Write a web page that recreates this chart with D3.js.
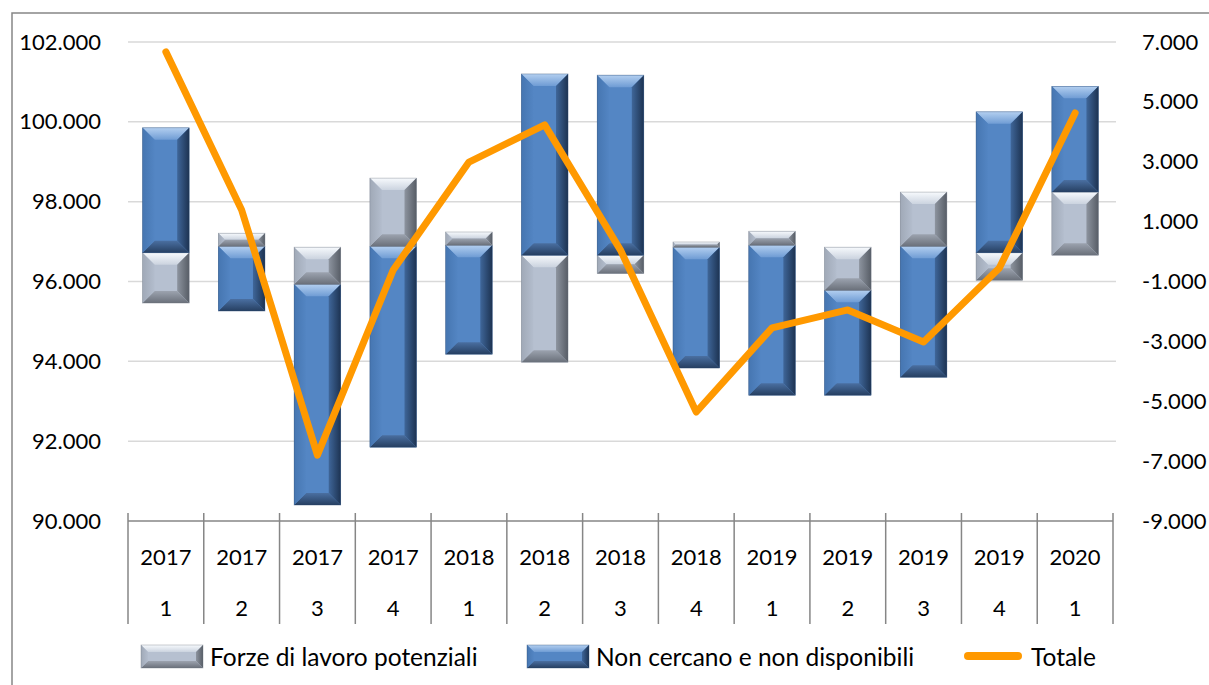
<!DOCTYPE html>
<html>
<head>
<meta charset="utf-8">
<script src="https://cdn.jsdelivr.net/npm/d3@7"></script>
<style>
  body { margin: 0; background: #fff; }
  text { font-family: Lato, "Open Sans", sans-serif; fill: #000; }
</style>
</head>
<body>
<script>
// categories (year / quarter)
const years = ["2017", "2017", "2017", "2017", "2018", "2018", "2018", "2018", "2019", "2019", "2019", "2019", "2020"];
const quarters = ["1", "2", "3", "4", "1", "2", "3", "4", "1", "2", "3", "4", "1"];

// floating segments [low, high] on the left axis
const potenziali = [
  [95460, 96720], [96880, 97210], [95930, 96860], [96880, 98590], [96910, 97240],
  [93980, 96660], [96200, 96660], [96860, 96990], [96910, 97260], [96860, 95780],
  [96880, 98240], [96030, 96720], [96660, 98240]
];
const nonCercano = [
  [96720, 99850], [95260, 96880], [90400, 95930], [91850, 96880], [94180, 96910],
  [96660, 101200], [96660, 101170], [93830, 96860], [93150, 96910], [93150, 95780],
  [93600, 96880], [96720, 100250], [98240, 100890]
];

// right axis line
const totale = [6670, 1390, -6800, -615, 2990, 4230, 50, -5360, -2550, -1950, -3020, -550, 4630];

const leftTicks = [90000, 92000, 94000, 96000, 98000, 100000, 102000];
const rightTicks = [-9000, -7000, -5000, -3000, -1000, 1000, 3000, 5000, 7000];

const W = 1209, H = 685;
const plot = { left: 128, right: 1113, top: 42, bottom: 521 };
const FONT = 22;
const LEGEND_FONT = 24.5;

const it = d3.formatLocale({ decimal: ",", thousands: ".", grouping: [3], currency: ["€", ""], minus: "-" });
const fmt = it.format(",d");

const svg = d3.select("body").append("svg").attr("width", W).attr("height", H);
svg.append("rect").attr("width", W).attr("height", H).attr("fill", "#fff");

// outer frame
svg.append("rect")
  .attr("x", 12).attr("y", 13).attr("width", W + 20).attr("height", H + 20)
  .attr("fill", "none").attr("stroke", "#868686").attr("stroke-width", 1.5);

const x = d3.scaleBand().domain(d3.range(years.length)).range([plot.left, plot.right]);
const yL = d3.scaleLinear().domain([90000, 102000]).range([plot.bottom, plot.top]);
const yR = d3.scaleLinear().domain([-9000, 7000]).range([plot.bottom, plot.top]);

// gradients for the bevelled bars
const defs = svg.append("defs");
const palettes = {
  blue: {
    id: "blue", face: "#5486C4", edge: "#2B4A72",
    top: ["#B3CFF0", "#6F9CD4"], right: ["#3F6699", "#1D3352"],
    bottom: ["#4A6FA1", "#263F61"], left: ["#4676B1", "#5385C3"]
  },
  gray: {
    id: "gray", face: "#B6C0D0", edge: "#6E7580",
    top: ["#F7FAFD", "#CBD3DF"], right: ["#8D949F", "#575D66"],
    bottom: ["#9CA3AF", "#6A707A"], left: ["#A0A9B7", "#B3BDCD"]
  }
};
Object.values(palettes).forEach((p) => {
  const dirs = { top: [0, 0, 0, 1], right: [0, 0, 1, 0], bottom: [0, 0, 0, 1], left: [0, 0, 1, 0] };
  Object.entries(dirs).forEach(([side, v]) => {
    const g = defs.append("linearGradient").attr("id", `${p.id}-${side}`)
      .attr("x1", v[0]).attr("y1", v[1]).attr("x2", v[2]).attr("y2", v[3]);
    g.append("stop").attr("offset", 0).attr("stop-color", p[side][0]);
    g.append("stop").attr("offset", 1).attr("stop-color", p[side][1]);
  });
});

const bevel = (sel, x0, y0, w, h, pal, size) => {
  const b = Math.min(size, h / 2, w / 2);
  const x1 = x0 + w, y1 = y0 + h;
  const g = sel.append("g");
  const poly = (pts, fill) => g.append("polygon")
    .attr("points", pts.map((p) => p.join(",")).join(" ")).attr("fill", fill);
  poly([[x0, y0], [x1, y0], [x1, y1], [x0, y1]], pal.face);
  poly([[x0, y0], [x1, y0], [x1 - b, y0 + b], [x0 + b, y0 + b]], `url(#${pal.id}-top)`);
  poly([[x1, y0], [x1, y1], [x1 - b, y1 - b], [x1 - b, y0 + b]], `url(#${pal.id}-right)`);
  poly([[x0, y1], [x1, y1], [x1 - b, y1 - b], [x0 + b, y1 - b]], `url(#${pal.id}-bottom)`);
  poly([[x0, y0], [x0 + b, y0 + b], [x0 + b, y1 - b], [x0, y1]], `url(#${pal.id}-left)`);
  g.append("rect").attr("x", x0).attr("y", y0).attr("width", w).attr("height", h)
    .attr("fill", "none").attr("stroke", pal.edge).attr("stroke-width", 0.6).attr("stroke-opacity", 0.6);
};

// gridlines
svg.append("g").selectAll("line").data(leftTicks.slice(1)).join("line")
  .attr("x1", plot.left).attr("x2", plot.right + 3)
  .attr("y1", (d) => yL(d)).attr("y2", (d) => yL(d))
  .attr("stroke", "#D9D9D9").attr("stroke-width", 1.5);

// left axis labels
const axL = svg.append("g").attr("transform", `translate(${plot.left},0)`)
  .call(d3.axisLeft(yL).tickValues(leftTicks).tickFormat(fmt).tickSize(0).tickPadding(27));
axL.select(".domain").remove();
axL.selectAll("text").style("font-size", `${FONT}px`).attr("font-family", "Lato");

// right axis labels
const axR = svg.append("g").attr("transform", `translate(${plot.right},0)`)
  .call(d3.axisRight(yR).tickValues(rightTicks).tickFormat(fmt).tickSize(0).tickPadding(29));
axR.select(".domain").remove();
axR.selectAll("text").style("font-size", `${FONT}px`).attr("font-family", "Lato");

// bars
const bw = x.bandwidth() * 0.615;
const bars = svg.append("g");
years.forEach((_, i) => {
  const cx = x(i) + x.bandwidth() / 2;
  const segs = [
    { r: potenziali[i], pal: palettes.gray },
    { r: nonCercano[i], pal: palettes.blue }
  ].sort((a, b) => d3.min(a.r) - d3.min(b.r));
  segs.forEach((s) => {
    const top = yL(d3.max(s.r)), bot = yL(d3.min(s.r));
    bevel(bars, cx - bw / 2, top, bw, bot - top, s.pal, 12);
  });
});

// category axis
svg.append("line")
  .attr("x1", plot.left).attr("x2", plot.right)
  .attr("y1", plot.bottom).attr("y2", plot.bottom)
  .attr("stroke", "#868686").attr("stroke-width", 1.5);
svg.append("g").selectAll("line").data(d3.range(years.length + 1)).join("line")
  .attr("x1", (d) => plot.left + d * x.step()).attr("x2", (d) => plot.left + d * x.step())
  .attr("y1", plot.bottom - 8).attr("y2", 624)
  .attr("stroke", "#868686").attr("stroke-width", 1.5);
svg.append("g").selectAll("text").data(years).join("text")
  .attr("x", (d, i) => x(i) + x.bandwidth() / 2).attr("y", 556)
  .attr("text-anchor", "middle").attr("dominant-baseline", "central")
  .style("font-size", `${FONT}px`).text((d) => d);
svg.append("g").selectAll("text").data(quarters).join("text")
  .attr("x", (d, i) => x(i) + x.bandwidth() / 2).attr("y", 607)
  .attr("text-anchor", "middle").attr("dominant-baseline", "central")
  .style("font-size", `${FONT}px`).text((d) => d);

// totale line
const line = d3.line().x((d, i) => x(i) + x.bandwidth() / 2).y((d) => yR(d));
svg.append("path").datum(totale).attr("d", line)
  .attr("fill", "none").attr("stroke", "#FF9900").attr("stroke-width", 7)
  .attr("stroke-linejoin", "round").attr("stroke-linecap", "round");

// legend
const legend = svg.append("g");
bevel(legend, 141, 645, 62, 23, palettes.gray, 7);
legend.append("text").attr("x", 210).attr("y", 656).attr("dominant-baseline", "central")
  .style("font-size", `${LEGEND_FONT}px`).text("Forze di lavoro potenziali");
bevel(legend, 527, 645, 62, 23, palettes.blue, 7);
legend.append("text").attr("x", 596).attr("y", 656).attr("dominant-baseline", "central")
  .style("font-size", `${LEGEND_FONT}px`).text("Non cercano e non disponibili");
legend.append("line").attr("x1", 968).attr("x2", 1018).attr("y1", 656).attr("y2", 656)
  .attr("stroke", "#FF9900").attr("stroke-width", 8).attr("stroke-linecap", "round");
legend.append("text").attr("x", 1031).attr("y", 656).attr("dominant-baseline", "central")
  .style("font-size", `${LEGEND_FONT}px`).text("Totale");
</script>
</body>
</html>
